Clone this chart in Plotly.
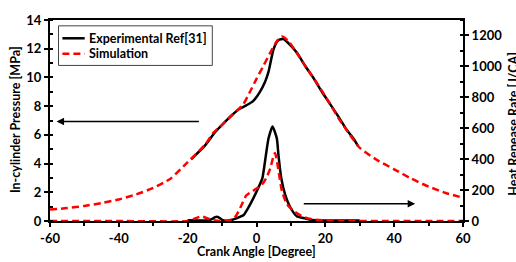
import plotly.graph_objects as go

# ---------------- data ----------------
sim_p_angle = [-60, -55, -50, -45, -40, -35, -30, -25, -20, -15, -12.5, -10, -7, -5, -3.8, -2, 0, 2, 4, 6, 7.3,
               9, 12, 15, 18, 21, 24, 27, 30, 35, 40, 45, 50, 55, 60]
sim_p = [0.80, 0.90, 1.05, 1.25, 1.50, 1.85, 2.30, 2.95, 4.10, 5.30, 6.15, 6.70, 7.40, 7.85, 8.14, 8.95, 9.90,
         10.80, 11.73, 12.55, 12.85, 12.60, 11.60, 10.50, 9.45, 8.30, 7.10, 6.05, 5.10, 4.25, 3.60, 2.95, 2.40,
         1.95, 1.62]

exp_p_angle = [-19, -15, -12, -10, -7, -5, -3, -1, 1, 2.5, 3.5, 5, 6.4, 7.8, 9, 11.7, 14, 16.6, 19, 21.4, 24,
               26.2, 28, 29.5]
exp_p = [4.30, 5.25, 6.20, 6.70, 7.40, 7.80, 8.05, 8.35, 9.00, 9.70, 10.40, 12.00, 12.60, 12.67, 12.45, 11.73,
         10.85, 9.94, 9.00, 8.14, 7.20, 6.35, 5.80, 5.23]

sim_hrr_angle = [-60, -40, -20, -18, -16, -14, -12, -10, -8, -7, -6, -5, -4, -3, -2, -1, 0, 1, 2, 3, 4, 5, 5.4,
                 6, 6.5, 7.4, 8.8, 10, 11.2, 13.6, 16.5, 20, 25, 40, 60]
sim_hrr = [0, 0, 0, 15, 30, 15, 3, 0, 4, 10, 32, 72, 120, 165, 182, 195, 210, 226, 248, 285, 340, 425, 440,
           380, 310, 193, 110, 80, 58, 27, 10, 3, 0, 0, 0]

exp_hrr_angle = [-20, -14, -13, -12, -11.5, -11, -10, -9, -7, -5.2, -3.8, -2.3, -0.9, 0.5, 1.7, 2.7, 3.5, 4.65,
                 5.9, 6.4, 7.2, 8.3, 9.8, 11.7, 14.1, 16, 20, 30]
exp_hrr = [5, 5, 12, 25, 28, 24, 8, 2, 8, 23, 37, 89, 148, 214, 276, 421, 535, 612, 535, 421, 276, 172, 89, 31,
           17, 6, 3, 3]

x_ticks = [-60, -40, -20, 0, 20, 40, 60]
p_ticks = [0, 2, 4, 6, 8, 10, 12, 14]
hrr_ticks = [0, 200, 400, 600, 800, 1000, 1200]

series_names = ["Experimental Ref[31]", "Simulation"]

# ---------------- figure ----------------
FONT = "Lato"
BLACK = "#000000"
RED = "#FF0000"
DASH = "7px,4px"


def b(s):
    return "<b>%s</b>" % s


fig = go.Figure()

fig.add_trace(go.Scatter(x=exp_p_angle, y=exp_p, mode="lines", name=series_names[0],
                         line=dict(color=BLACK, width=2.5, shape="spline", smoothing=0.6), showlegend=False))
fig.add_trace(go.Scatter(x=sim_p_angle, y=sim_p, mode="lines", name=series_names[1],
                         line=dict(color=RED, width=2.5, dash=DASH, shape="spline", smoothing=0.6),
                         showlegend=False))
fig.add_trace(go.Scatter(x=exp_hrr_angle, y=exp_hrr, mode="lines", name=series_names[0],
                         line=dict(color=BLACK, width=2.5, shape="spline", smoothing=0.5),
                         showlegend=False, yaxis="y2"))
fig.add_trace(go.Scatter(x=sim_hrr_angle, y=sim_hrr, mode="lines", name=series_names[1],
                         line=dict(color=RED, width=2.5, dash=DASH, shape="spline", smoothing=0.5),
                         showlegend=False, yaxis="y2"))

tickfont = dict(family=FONT, size=13, color=BLACK)

fig.update_layout(
    width=516, height=262,
    margin=dict(l=49.5, r=53, t=13, b=41),
    paper_bgcolor="white", plot_bgcolor="white",
    font=dict(family=FONT, size=12, color=BLACK),
    xaxis=dict(range=[-60, 60], tickvals=x_ticks, ticktext=[b(v) for v in x_ticks], ticks="outside",
               ticklen=4, tickwidth=1.5, tickcolor=BLACK, showline=True, linecolor=BLACK, linewidth=2,
               mirror=True, showgrid=False, zeroline=False, tickfont=tickfont,
               minor=dict(dtick=10, ticks="outside", ticklen=3, tickcolor=BLACK, showgrid=False)),
    yaxis=dict(range=[0, 14], tickvals=p_ticks, ticktext=[b(v) for v in p_ticks], ticks="outside",
               ticklen=4, tickwidth=1.5, tickcolor=BLACK, showline=True, linecolor=BLACK, linewidth=2,
               showgrid=False, zeroline=False, tickfont=tickfont,
               minor=dict(dtick=1, ticks="inside", ticklen=3, tickcolor=BLACK, showgrid=False)),
    yaxis2=dict(range=[0, 1300], tickvals=hrr_ticks, ticktext=[b(v) for v in hrr_ticks], overlaying="y",
                side="right", ticks="outside", ticklen=4, tickwidth=1.5, tickcolor=BLACK, showline=True,
                linecolor=BLACK, linewidth=2, showgrid=False, zeroline=False, tickfont=tickfont,
                minor=dict(dtick=100, ticks="inside", ticklen=3, tickcolor=BLACK, showgrid=False)),
    showlegend=False,
)

# ---- legend drawn by hand (box, line samples, labels) ----
fig.add_shape(type="rect", xref="paper", yref="paper", x0=0.0206, x1=0.393, y0=0.774, y1=0.971,
              line=dict(color="#444444", width=1), fillcolor="white", layer="above")
fig.add_shape(type="line", xref="paper", yref="paper", x0=0.030, x1=0.084, y0=0.909, y1=0.909,
              line=dict(color=BLACK, width=2.5), layer="above")
fig.add_shape(type="line", xref="paper", yref="paper", x0=0.030, x1=0.084, y0=0.832, y1=0.832,
              line=dict(color=RED, width=2.5, dash=DASH), layer="above")
legend_font = dict(family=FONT, size=12.5, color=BLACK)
fig.add_annotation(text=b(series_names[0]), xref="paper", yref="paper", x=0.089, y=0.909,
                   xanchor="left", yanchor="middle", showarrow=False, font=legend_font)
fig.add_annotation(text=b(series_names[1]), xref="paper", yref="paper", x=0.089, y=0.832,
                   xanchor="left", yanchor="middle", showarrow=False, font=legend_font)

title_font = dict(family=FONT, size=12.5, color=BLACK)
# axis titles
fig.add_annotation(text=b("In-cylinder Pressure [MPa]"), xref="paper", yref="paper", x=-0.0834, y=0.505,
                   textangle=-90, showarrow=False, xanchor="center", yanchor="middle", font=title_font)
fig.add_annotation(text=b("Crank Angle [Degree]"), xref="paper", yref="paper", x=0.50, y=-0.153,
                   showarrow=False, xanchor="center", yanchor="middle", font=title_font)
fig.add_annotation(text=b("Heat Repease Rate [J/CA]"), xref="paper", yref="paper", x=1.122, y=0.486,
                   textangle=-90, showarrow=False, xanchor="center", yanchor="middle", font=title_font)

# direction arrows
fig.add_annotation(x=-58.1, y=6.93, ax=-16.3, ay=6.93, xref="x", yref="y", axref="x", ayref="y",
                   showarrow=True, arrowhead=2, arrowsize=1, arrowwidth=1.5, arrowcolor=BLACK, text="")
fig.add_annotation(x=46.1, y=112, ax=13.3, ay=112, xref="x", yref="y2", axref="x", ayref="y2",
                   showarrow=True, arrowhead=2, arrowsize=1, arrowwidth=1.5, arrowcolor=BLACK, text="")

fig.write_html("out.html", config={"displayModeBar": False},
               post_script="document.body.style.margin='0';document.body.style.padding='0';")
